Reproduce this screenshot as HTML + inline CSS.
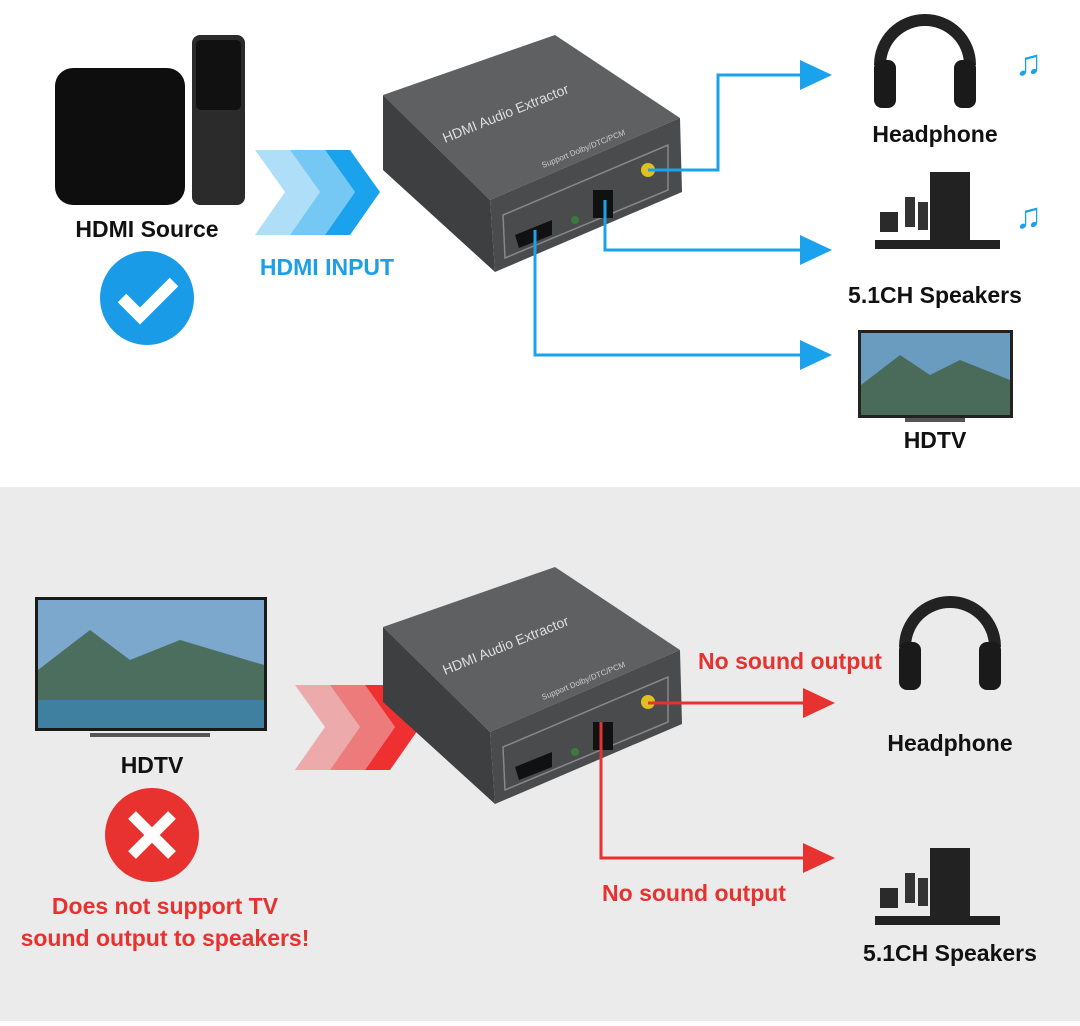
<!DOCTYPE html>
<html><head><meta charset="utf-8"><style>
body{margin:0;width:1080px;height:1021px;overflow:hidden;background:#fff;font-family:"Liberation Sans",sans-serif}
</style></head><body>
<svg width="1080" height="1021" viewBox="0 0 1080 1021" xmlns="http://www.w3.org/2000/svg" font-family="Liberation Sans, sans-serif" font-weight="bold">
<defs>
<g id="dev">
<polygon points="383,95 555,35 680,118 490,200" fill="#5f6062"/>
<polygon points="383,95 490,200 495,272 383,170" fill="#3e3f41"/>
<polygon points="490,200 680,118 682,192 495,272" fill="#4a4b4d"/>
<polygon points="503,215 668,145 668,190 505,258" fill="none" stroke="#888" stroke-width="1.5"/>
<text x="0" y="0" font-size="14" font-weight="normal" fill="#ddd" transform="translate(445,143) rotate(-22)">HDMI Audio Extractor</text>
<text x="0" y="0" font-size="8" font-weight="normal" fill="#ccc" transform="translate(543,168) rotate(-22)">Support Dolby/DTC/PCM</text>
<polygon points="515,235 552,220 552,235 519,248" fill="#111"/>
<rect x="593" y="190" width="20" height="28" fill="#111"/>
<circle cx="648" cy="170" r="7" fill="#e0c020"/>
<circle cx="575" cy="220" r="4" fill="#3a7a3a"/>
</g>
<g id="hp">
<path d="M0,50 A45,45 0 0 1 90,50" fill="none" stroke="#222" stroke-width="12"/>
<rect x="-6" y="45" width="22" height="48" rx="8" fill="#1a1a1a"/>
<rect x="74" y="45" width="22" height="48" rx="8" fill="#1a1a1a"/>
</g>
<g id="spk">
<rect x="60" y="0" width="40" height="70" fill="#222"/>
<rect x="10" y="40" width="18" height="20" fill="#2a2a2a"/>
<rect x="35" y="25" width="10" height="30" fill="#333"/>
<rect x="48" y="30" width="10" height="28" fill="#333"/>
<rect x="5" y="68" width="125" height="9" fill="#222"/>
</g>
</defs>

<rect x="55" y="68" width="130" height="137" rx="18" fill="#0e0e0e"/>
<rect x="192" y="35" width="53" height="170" rx="8" fill="#2b2b2b"/>
<rect x="196" y="40" width="45" height="70" rx="5" fill="#111"/>
<text x="147" y="237" font-size="23" text-anchor="middle" fill="#111">HDMI Source</text>
<circle cx="147" cy="298" r="47" fill="#1a9be8"/>
<polyline points="122,298 140,316 174,282" fill="none" stroke="#fff" stroke-width="12"/>
<g fill="#1aa3ec">
<polygon points="255,150 290,150 320,192 290,235 255,235 285,192" opacity="0.35"/>
<polygon points="290,150 325,150 355,192 325,235 290,235 320,192" opacity="0.6"/>
<polygon points="325,150 350,150 380,192 350,235 325,235 355,192"/>
</g>
<text x="327" y="275" font-size="23" text-anchor="middle" fill="#1ba0e8">HDMI INPUT</text>
<use href="#dev"/>
<g fill="none" stroke="#1aa3ec" stroke-width="3">
<polyline points="648,170 718,170 718,75 805,75"/>
<polyline points="605,200 605,250 805,250"/>
<polyline points="535,230 535,355 805,355"/>
</g>
<g fill="#1aa3ec">
<polygon points="800,60 832,75 800,90"/>
<polygon points="800,235 832,250 800,265"/>
<polygon points="800,340 832,355 800,370"/>
</g>
<use href="#hp" transform="translate(880,15)"/>
<text x="1015" y="75" font-size="36" fill="#1aa3ec" font-weight="normal">♫</text>
<text x="935" y="142" font-size="23" text-anchor="middle" fill="#111">Headphone</text>
<use href="#spk" transform="translate(870,172)"/>
<text x="1015" y="228" font-size="36" fill="#1aa3ec" font-weight="normal">♫</text>
<text x="935" y="303" font-size="23" text-anchor="middle" fill="#111">5.1CH Speakers</text>
<rect x="858" y="330" width="155" height="88" fill="#222"/>
<rect x="861" y="333" width="149" height="82" fill="#6a9cc0"/>
<polygon points="861,385 900,355 930,375 960,360 1010,380 1010,415 861,415" fill="#4a6b5a"/>
<rect x="905" y="418" width="60" height="4" fill="#555"/>
<text x="935" y="448" font-size="23" text-anchor="middle" fill="#111">HDTV</text>

<rect x="0" y="487" width="1080" height="534" fill="#ebebeb"/>
<rect x="35" y="597" width="232" height="134" fill="#1a1a1a"/>
<rect x="38" y="600" width="226" height="128" fill="#7ba8cc"/>
<polygon points="38,670 90,630 130,660 180,640 264,665 264,728 38,728" fill="#4b6e5e"/>
<rect x="38" y="700" width="226" height="28" fill="#3f7fa0"/>
<rect x="90" y="733" width="120" height="4" fill="#555"/>
<text x="152" y="773" font-size="23" text-anchor="middle" fill="#111">HDTV</text>
<circle cx="152" cy="835" r="47" fill="#e8322f"/>
<path d="M132,815 L172,855 M172,815 L132,855" stroke="#fff" stroke-width="11"/>
<text x="165" y="914" font-size="23" text-anchor="middle" fill="#e8322f">Does not support TV</text>
<text x="165" y="946" font-size="23" text-anchor="middle" fill="#e8322f">sound output to speakers!</text>
<g fill="#ee3030">
<polygon points="295,685 330,685 360,727 330,770 295,770 325,727" opacity="0.35"/>
<polygon points="330,685 365,685 395,727 365,770 330,770 360,727" opacity="0.6"/>
<polygon points="365,685 390,685 420,727 390,770 365,770 395,727"/>
</g>
<use href="#dev" transform="translate(0,532)"/>
<g fill="none" stroke="#e8322f" stroke-width="3">
<polyline points="648,703 805,703"/>
<polyline points="601,722 601,858 805,858"/>
</g>
<g fill="#e8322f">
<polygon points="803,688 835,703 803,718"/>
<polygon points="803,843 835,858 803,873"/>
</g>
<text x="790" y="669" font-size="23" text-anchor="middle" fill="#e8322f">No sound output</text>
<text x="694" y="901" font-size="23" text-anchor="middle" fill="#e8322f">No sound output</text>
<use href="#hp" transform="translate(905,597)"/>
<text x="950" y="751" font-size="23" text-anchor="middle" fill="#111">Headphone</text>
<use href="#spk" transform="translate(870,848)"/>
<text x="950" y="961" font-size="23" text-anchor="middle" fill="#111">5.1CH Speakers</text>
</svg>
</body></html>
